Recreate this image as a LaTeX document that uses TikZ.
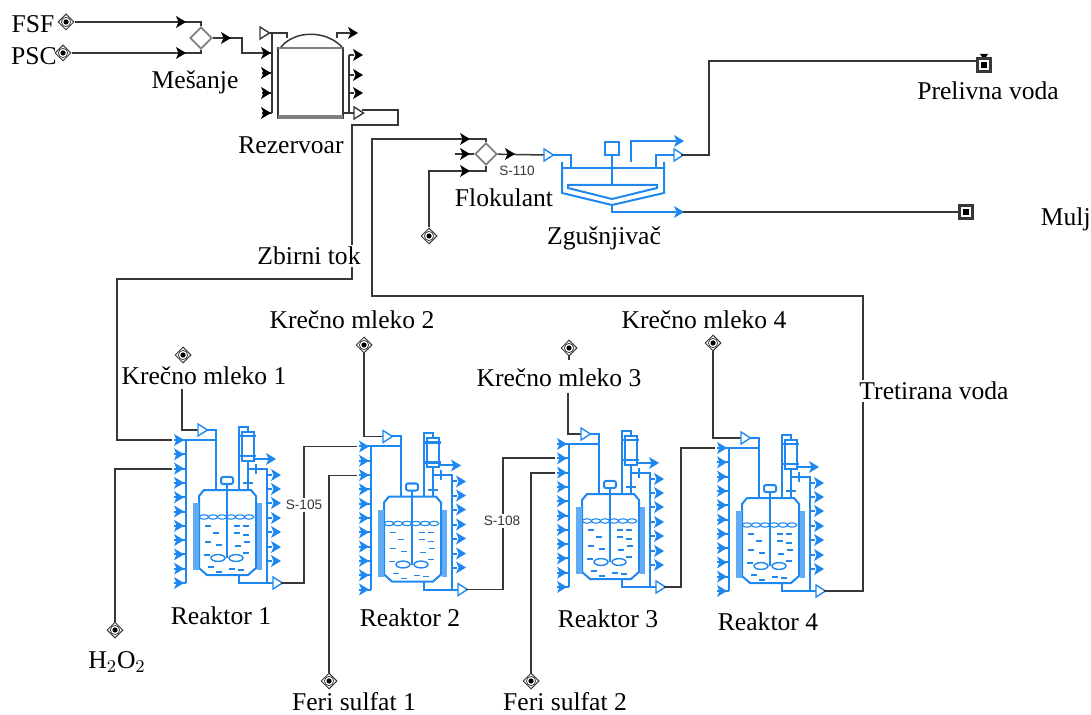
\documentclass[tikz,border=0pt]{standalone}
\usepackage{fontspec}
\setmainfont{Liberation Serif}
\setsansfont{Liberation Sans}
\usetikzlibrary{shapes.geometric}
\definecolor{flowblue}{RGB}{30,136,240}
\definecolor{pipegray}{RGB}{55,55,55}
\tikzset{
    pipe/.style={draw=pipegray, line width=0.75pt},
    bluepipe/.style={draw=flowblue, line width=1pt},
    lbl/.style={font=\fontsize{12.8}{14}\selectfont, fill=white, inner sep=1pt},
    streamlbl/.style={font=\sffamily\fontsize{6.8}{8}\selectfont, text=pipegray, fill=white, inner sep=1pt},
    srcnode/.style={diamond, draw=pipegray, line width=0.5pt, minimum size=8pt, inner sep=0pt,
        path picture={\fill[black] (path picture bounding box.center) circle (1.3pt);
            \draw[pipegray, line width=0.35pt] (path picture bounding box.center) circle (2.3pt);}},
    mixnode/.style={diamond, draw=gray, line width=0.9pt, fill=white, minimum size=11pt, inner sep=0pt},
    sinknode/.style={rectangle, draw=pipegray, line width=1.1pt, fill=white, minimum size=6.5pt, inner sep=0pt,
        path picture={\fill[black] ([shift={(-1.5pt,-1.5pt)}]path picture bounding box.center) rectangle +(3pt,3pt);}},
    % filled and open stream tips
    pics/ftip/.style={code={
        \fill (-4,-6) -- (6,0) -- (-4,6) -- (-1.5,0) -- cycle;
    }},
    pics/otip/.style={code={
        \filldraw[fill=white, line width=0.7pt] (-4,-6) -- (5.5,0) -- (-4,6) -- cycle;
    }},
    % one reactor, drawn in the frame of the first one
    pics/reactor/.style={code={
        \coordinate (-inA) at (172,440);
        \coordinate (-inB) at (172,454);
        \coordinate (-inC) at (172,469);
        \coordinate (-feed) at (197,430);
        \coordinate (-out) at (281,583);
        \begin{scope}[color=flowblue]
            % inlet manifold
            \draw[bluepipe] (186,440) -- (186,583);
            \foreach \yy in {0,...,10}
                \draw[bluepipe] (174,440+14.3*\yy) -- (186,440+14.3*\yy);
            \foreach \yy in {0,...,10}
                \pic at (178,440+14.3*\yy) {ftip};
            \draw[bluepipe] (197,430) -- (216,430) -- (216,490);
            \draw[bluepipe] (186,440) -- (216,440);
            \pic at (202,430) {otip};
            % vessel and jacket
            \draw[bluepipe] (199,496) -- (204,490) -- (251,490) -- (256,496) -- (256,568) -- (248,575)
                -- (207,575) -- (199,568) -- cycle;
            \draw[flowblue!70, line width=2.6pt] (196,503) -- (196,570);
            \draw[flowblue!70, line width=2.6pt] (259.5,503) -- (259.5,570);
            % agitator
            \draw[bluepipe] (227,484) -- (227,558);
            \draw[bluepipe, fill=white, rounded corners=1pt] (221,477) rectangle (233,484);
            \draw[bluepipe, line width=0.7pt] (218,558) ellipse (3.5pt and 1.7pt);
            \draw[bluepipe, line width=0.7pt] (236,558) ellipse (3.5pt and 1.7pt);
            % liquid level
            \foreach \xx in {204,213,...,250}
                \draw[flowblue, line width=0.55pt] (\xx,517) ellipse (2.4pt and 1.1pt);
            \foreach \xx/\yy in {208/526,237/526,246/526,216/533,237/533,246/535,208/542,219/545,
                    238/546,247/542,207/555,246/553,211/567,219/572,232/569,241/570}
                \draw[flowblue, line width=0.65pt] (\xx-3,\yy) -- (\xx+3,\yy);
            % condenser
            \draw[bluepipe] (239,490) -- (239,427) -- (248,427) -- (248,432);
            \draw[bluepipe] (248,461) -- (248,490);
            \draw[bluepipe, fill=white] (242,432) rectangle (254,461);
            \draw[bluepipe, line width=1.3pt] (240,436) -- (256,436);
            \draw[bluepipe, line width=1.3pt] (240,456) -- (256,456);
            \draw[bluepipe] (243,483) -- (253,483);
            \draw[bluepipe] (254,459) -- (270,459);
            \pic at (270,459) {ftip};
            % outlet manifold
            \draw[bluepipe] (248,469) -- (267,469) -- (267,583);
            \draw[bluepipe] (256,464) -- (256,474);
            \foreach \yy in {475,489,503,518,532,547,561} {
                \draw[bluepipe] (267,\yy) -- (272,\yy);
                \pic at (275,\yy) {ftip};
            }
            \draw[bluepipe] (239,575) -- (239,583) -- (273,583);
            \pic at (277,583) {otip};
        \end{scope}
    }},
}
\begin{document}
\begin{tikzpicture}[x=0.5pt, y=-0.5pt]
    \useasboundingbox (0,0) rectangle (1091,715);

    % Feed streams, mixer and storage tank
    \node[srcnode] (fsf) at (66,22) {};
    \node[srcnode] (psc) at (63,53) {};
    \node[mixnode] (mix1) at (201,38) {};
    \coordinate (mix1out) at (242,38);
    \coordinate (tankin) at (262,53);
    \draw[pipe] (fsf) -| (mix1);
    \draw[pipe] (psc) -| (mix1);
    \draw[pipe] (mix1) -- (mix1out) |- (tankin);
    \pic[color=black] at (180,22) {ftip};
    \pic[color=black] at (180,53) {ftip};
    \pic[color=black] at (225,38) {ftip};

    % Tank body with its nozzles
    \draw[pipe, line width=0.9pt] (278,48) rectangle (343,118);
    \draw[gray, line width=1.6pt] (278,117) -- (343,117);
    \draw[gray, line width=1.1pt] (278,48) -- (343,48);
    \draw[pipe] (281,47) .. controls (295,30) and (326,30) .. (342,47);
    \draw[pipe] (272,33) -- (272,113);
    \draw[pipe] (268,33) -- (287,33) -- (287,38);
    \pic[color=pipegray] at (264,33) {otip};
    \foreach \yy in {53,73,93,113} {
        \draw[pipe] (262,\yy) -- (272,\yy);
        \pic[color=black] at (265,\yy) {ftip};
    }
    \draw[pipe] (337,38) -- (337,33) -- (350,33);
    \pic[color=black] at (352,33) {ftip};
    \draw[pipe] (349,55) -- (349,113);
    \foreach \yy in {55,75,93} {
        \draw[pipe] (349,\yy) -- (354,\yy);
        \pic[color=black] at (357,\yy) {ftip};
    }
    \draw[pipe] (343,113) -- (355,113);
    \pic[color=pipegray] at (358,113) {otip};

    % Reactors
    \pic (rone) at (0,0) {reactor};
    \pic (rtwo) at (185,6.5) {reactor};
    \pic (rthree) at (383,4) {reactor};
    \pic (rfour) at (543,8) {reactor};

    % Collected stream from the tank to the first reactor
    \coordinate (tankout) at (362,110);
    \coordinate (bendA) at (398,110);
    \coordinate (bendB) at (398,125);
    \coordinate (bendC) at (352,125);
    \coordinate (bendD) at (352,279);
    \coordinate (bendE) at (117,279);
    \draw[pipe] (tankout) -- (bendA) -- (bendB) -- (bendC) -- (bendD) -- (bendE) |- (rone-inA);

    % Side feeds
    \node[srcnode] (hperox) at (115,630) {};
    \draw[pipe] (hperox) |- (rone-inC);
    \node[srcnode] (limeA) at (183,355) {};
    \coordinate (limeAstem) at (182,389);
    \draw[pipe] (limeAstem) |- (rone-feed);
    \node[srcnode] (limeB) at (364,345) {};
    \draw[pipe] (limeB) |- (rtwo-feed);
    \node[srcnode] (limeC) at (569,348) {};
    \coordinate (limeCstem) at (569,360);
    \coordinate (limeCfoot) at (568,393);
    \draw[pipe] (limeC) -- (limeCstem);
    \draw[pipe] (limeCfoot) |- (rthree-feed);
    \node[srcnode] (limeD) at (713,343) {};
    \draw[pipe] (limeD) |- (rfour-feed);
    \node[srcnode] (ironA) at (329,681) {};
    \draw[pipe] (ironA) |- (rtwo-inC);
    \node[srcnode] (ironB) at (531,681) {};
    \draw[pipe] (ironB) |- (rthree-inC);

    % Reactor to reactor
    \coordinate (linkA) at (304,583);
    \coordinate (linkB) at (503,589.5);
    \coordinate (linkC) at (681,587);
    \draw[pipe] (rone-out) -- (linkA) |- (rtwo-inA);
    \draw[pipe] (rtwo-out) -- (linkB) |- (rthree-inB);
    \draw[pipe] (rthree-out) -- (linkC) |- (rfour-inA);

    % Treated water back to the thickener
    \node[mixnode] (mix2) at (486,154) {};
    \coordinate (backA) at (863,591);
    \coordinate (backB) at (863,296);
    \coordinate (backC) at (372,296);
    \coordinate (backD) at (372,139);
    \draw[pipe] (rfour-out) -- (backA) -- (backB) -- (backC) -- (backD) -| (mix2);
    \node[srcnode] (floc) at (429,236) {};
    \coordinate (flocbend) at (429,171);
    \draw[pipe] (floc) -- (flocbend) -| (mix2);
    \coordinate (mix2in) at (455,154);
    \draw[pipe] (mix2in) -- (mix2);
    \coordinate (thickin) at (545,155);
    \draw[pipe] (mix2) -- (thickin);
    \foreach \yy in {139,154,171}
        \pic[color=black] at (464,\yy) {ftip};
    \pic[color=black] at (509,154) {ftip};

    % Thickener
    \begin{scope}[color=flowblue]
        \draw[bluepipe] (548,155) -- (571,155) -- (571,168);
        \pic at (548,155) {otip};
        \draw[bluepipe] (562,162) -- (562,193) -- (612,205) -- (664,193) -- (664,162);
        \draw[bluepipe] (562,168) -- (664,168);
        \draw[bluepipe] (568,185) -- (657,185) -- (657,188) -- (612,199) -- (568,188) -- cycle;
        \draw[bluepipe] (612,155) -- (612,185);
        \draw[bluepipe] (605,142) rectangle (619,155);
        \draw[bluepipe] (631,162) -- (631,141) -- (676,141);
        \pic at (678,141) {ftip};
        \draw[bluepipe] (656,168) -- (656,155) -- (676,155);
        \pic at (678,155) {otip};
        \draw[bluepipe] (612,205) -- (612,212) -- (676,212);
        \pic at (678,212) {ftip};
    \end{scope}

    % Thickener products
    \node[sinknode] (overflow) at (984,65) {};
    \fill[black] (980,54) -- (988,54) -- (986,57) -- (982,57) -- cycle;
    \node[sinknode] (sludge) at (966,212) {};
    \coordinate (overA) at (681,155);
    \coordinate (overB) at (709,155);
    \coordinate (overC) at (709,61);
    \coordinate (sludgeA) at (683,212);
    \draw[pipe] (overA) -- (overB) -- (overC) -- (overflow.west |- overC);
    \draw[pipe] (sludgeA) -- (sludge);

    % Labels
    \node[lbl, fill=none] (lfsf) at (33,24) {FSF};
    \node[lbl, fill=none] (lpsc) at (34,56) {PSC};
    \node[lbl] (lmix) at (195,82) {Mešanje};
    \node[lbl] (ltank) at (291,145) {Rezervoar};
    \node[lbl] (lfloc) at (504,198) {Flokulant};
    \node[lbl] (lthick) at (604,238) {Zgušnjivač};
    \node[lbl] (lover) at (988,91) {Prelivna voda};
    \node[lbl, anchor=east, inner xsep=0pt] (lsludge) at (1091,219) {Mulj};
    \node[lbl] (lsum) at (309,256) {Zbirni tok};
    \node[lbl] (ltreat) at (934,391) {Tretirana voda};
    \node[lbl] (llimeA) at (204,376) {Krečno mleko 1};
    \node[lbl] (llimeB) at (352,320) {Krečno mleko 2};
    \node[lbl] (llimeC) at (559,378) {Krečno mleko 3};
    \node[lbl] (llimeD) at (704,320) {Krečno mleko 4};
    \node[lbl] (lrone) at (221,616) {Reaktor 1};
    \node[lbl] (lrtwo) at (410,618) {Reaktor 2};
    \node[lbl] (lrthree) at (608,619) {Reaktor 3};
    \node[lbl] (lrfour) at (768,622) {Reaktor 4};
    \node[lbl] (lperox) at (117,662) {H$_2$O$_2$};
    \node[lbl] (lironA) at (354,702) {Feri sulfat 1};
    \node[lbl] (lironB) at (565,702) {Feri sulfat 2};
    \node[streamlbl] (sA) at (304,505) {S-105};
    \node[streamlbl] (sB) at (502,521) {S-108};
    \node[streamlbl] (sC) at (517,171) {S-110};
\end{tikzpicture}
\end{document}
